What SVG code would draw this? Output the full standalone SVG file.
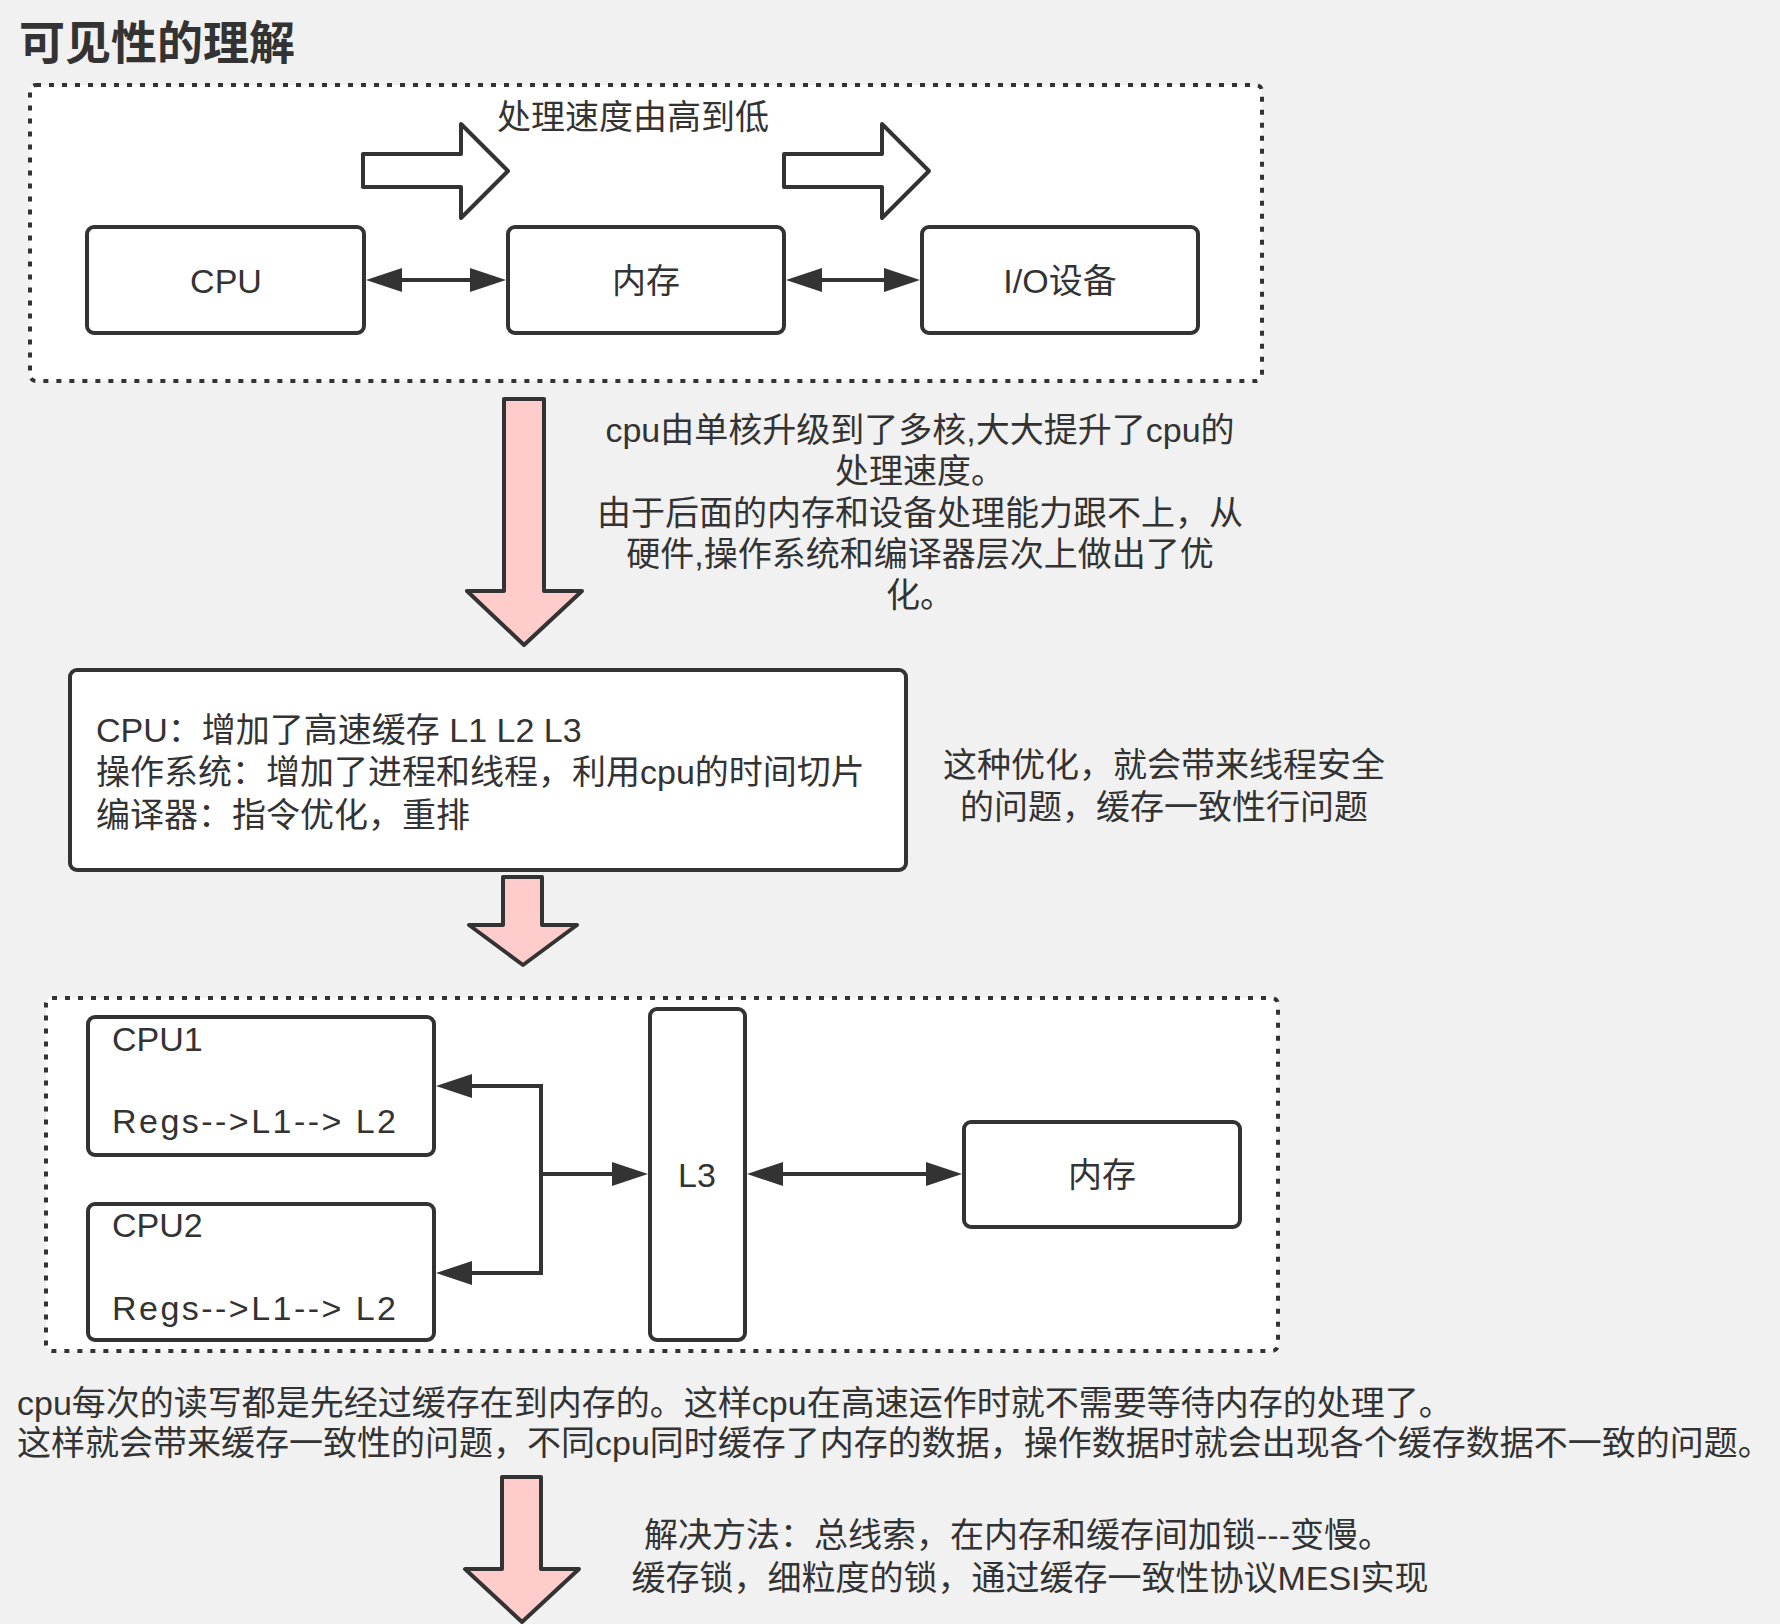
<svg xmlns="http://www.w3.org/2000/svg" width="1780" height="1624" viewBox="0 0 1780 1624">
<defs>
<style>
.t{font-family:"Liberation Sans","Noto Sans CJK SC",sans-serif;font-size:34px;fill:#333;}
.c{text-anchor:middle;}
.box{fill:#fff;stroke:#333;stroke-width:4;}
.dot{fill:#fff;stroke:#333;stroke-width:4;stroke-dasharray:5 8;}
.hollow{fill:#fff;stroke:#333;stroke-width:4;stroke-linejoin:round;}
.pink{fill:#FFCCCC;stroke:#333;stroke-width:4;stroke-linejoin:round;}
.ln{fill:none;stroke:#333;stroke-width:4;}
</style>
<marker id="ah" viewBox="0 0 36 24" refX="0" refY="12" markerWidth="36" markerHeight="24" markerUnits="userSpaceOnUse" orient="auto-start-reverse">
<path d="M0,0 L36,12 L0,24 Z" fill="#333"/>
</marker>
</defs>
<rect x="0" y="0" width="1780" height="1624" fill="#f1f1f1"/>
<text id="title" x="19" y="59" font-family="'Noto Sans CJK SC',sans-serif" font-size="46" font-weight="bold" fill="#333">可见性的理解</text>

<g id="group-top">
<rect class="dot" x="30" y="85" width="1232" height="296" rx="6"/>
</g>
<g id="speed-label"><text class="t c" x="633" y="129">处理速度由高到低</text></g>
<g id="hollow-arrow-1"><polygon class="hollow" points="363,154 461,154 461,124 508,171 461,218 461,187 363,187"/></g>
<g id="hollow-arrow-2"><polygon class="hollow" points="784,154 882,154 882,124 929,171 882,218 882,187 784,187"/></g>
<g id="cpu"><rect class="box" x="87" y="227" width="277" height="106" rx="7"/><text class="t c" x="226" y="293">CPU</text></g>
<g id="mem"><rect class="box" x="508" y="227" width="276" height="106" rx="7"/><text class="t c" x="646" y="293">内存</text></g>
<g id="io"><rect class="box" x="922" y="227" width="276" height="106" rx="7"/><text class="t c" x="1060" y="293">I/O设备</text></g>

<g id="pink-arrow-1"><polygon class="pink" points="504,399 544,399 544,591 582,591 524,645 467,591 504,591"/></g>
<g id="note-1">
<text class="t c" x="920" y="442">cpu由单核升级到了多核,大大提升了cpu的</text>
<text class="t c" x="920" y="483">处理速度。</text>
<text class="t c" x="920" y="525">由于后面的内存和设备处理能力跟不上，从</text>
<text class="t c" x="920" y="566">硬件,操作系统和编译器层次上做出了优</text>
<text class="t c" x="920" y="607">化。</text>
</g>

<g id="opt-box"><rect class="box" x="70" y="670" width="836" height="200" rx="7"/>
<text class="t" x="96" y="742">CPU：增加了高速缓存 L1 L2 L3</text>
<text class="t" x="96" y="784">操作系统：增加了进程和线程，利用cpu的时间切片</text>
<text class="t" x="96" y="827">编译器：指令优化，重排</text>
</g>
<g id="note-2">
<text class="t c" x="1164" y="777">这种优化，就会带来线程安全</text>
<text class="t c" x="1164" y="819">的问题，缓存一致性行问题</text>
</g>

<g id="pink-arrow-2"><polygon class="pink" points="503,877 542,877 542,925 577,925 523,965 469,925 503,925"/></g>

<g id="group-bottom"><rect class="dot" x="46" y="998" width="1232" height="353" rx="6"/></g>
<g id="cpu1"><rect class="box" x="88" y="1017" width="346" height="138" rx="7"/>
<text class="t" x="112" y="1051">CPU1</text>
<text class="t" x="112" y="1133" textLength="284" lengthAdjust="spacing">Regs-->L1--> L2</text>
</g>
<g id="cpu2"><rect class="box" x="88" y="1204" width="346" height="136" rx="7"/>
<text class="t" x="112" y="1237">CPU2</text>
<text class="t" x="112" y="1320" textLength="284" lengthAdjust="spacing">Regs-->L1--> L2</text>
</g>
<g id="l3"><rect class="box" x="650" y="1009" width="95" height="331" rx="7"/><text class="t c" x="697" y="1187">L3</text></g>
<g id="mem2"><rect class="box" x="964" y="1122" width="276" height="105" rx="7"/><text class="t c" x="1102" y="1187">内存</text></g>

<g id="connectors">
<line class="ln" x1="402" y1="280" x2="470" y2="280" marker-start="url(#ah)" marker-end="url(#ah)"/>
<line class="ln" x1="822" y1="280" x2="884" y2="280" marker-start="url(#ah)" marker-end="url(#ah)"/>
<path class="ln" d="M541,1174 V1086 H472" marker-end="url(#ah)"/>
<path class="ln" d="M541,1174 V1273 H472" marker-end="url(#ah)"/>
<path class="ln" d="M541,1174 H612" marker-end="url(#ah)"/>
<line class="ln" x1="783" y1="1174" x2="926" y2="1174" marker-start="url(#ah)" marker-end="url(#ah)"/>
</g>

<g id="note-3">
<text class="t" x="17" y="1415">cpu每次的读写都是先经过缓存在到内存的。这样cpu在高速运作时就不需要等待内存的处理了。</text>
<text class="t" x="17" y="1455">这样就会带来缓存一致性的问题，不同cpu同时缓存了内存的数据，操作数据时就会出现各个缓存数据不一致的问题。</text>
</g>
<g id="pink-arrow-3"><polygon class="pink" points="502,1477 541,1477 541,1569 579,1569 522,1622 465,1569 502,1569"/></g>
<g id="note-4">
<text class="t" x="644" y="1547">解决方法：总线索，在内存和缓存间加锁---变慢。</text>
<text class="t c" x="1030" y="1590">缓存锁，细粒度的锁，通过缓存一致性协议MESI实现</text>
</g>
</svg>
